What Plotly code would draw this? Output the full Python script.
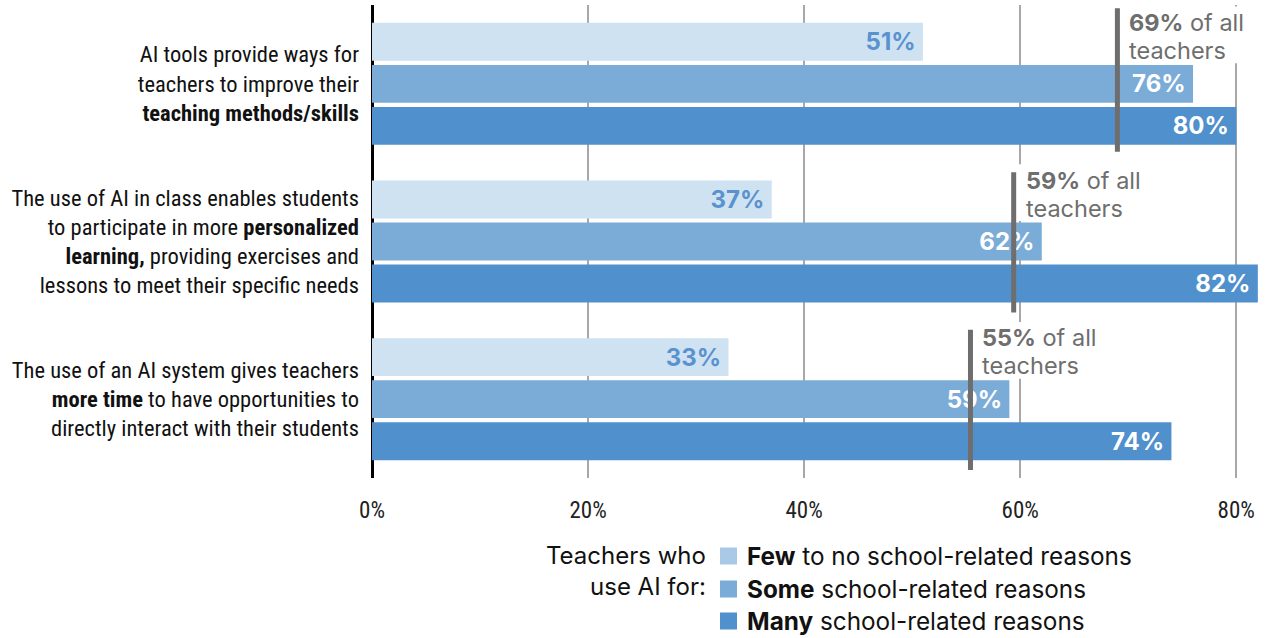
import plotly.graph_objects as go

# ---------------- data ----------------
categories = [
    "AI tools provide ways for<br>teachers to improve their<br><b>teaching methods/skills</b>",
    "The use of AI in class enables students<br>to participate in more <b>personalized</b><br><b>learning,</b> providing exercises and<br>lessons to meet their specific needs",
    "The use of an AI system gives teachers<br><b>more time</b> to have opportunities to<br>directly interact with their students",
]
series_names = ["Few", "Some", "Many"]
legend_labels = [
    "<b>Few</b> to no school-related reasons",
    "<b>Some</b> school-related reasons",
    "<b>Many</b> school-related reasons",
]
few_values = [51, 37, 33]
some_values = [76, 62, 59]
many_values = [80, 82, 74]
all_teachers = [69.0, 59.4, 55.4]
x_tick_vals = [0, 20, 40, 60, 80]
x_tick_text = ["0%", "20%", "40%", "60%", "80%"]
legend_title = "Teachers who<br>use AI for:"

# ---------------- style ----------------
bar_colors = ["#cfe2f1", "#7bacd8", "#5090cc"]
legend_colors = ["#a9c9e7", "#7bacd8", "#5090cc"]
text_colors = ["#5a92cf", "#ffffff", "#ffffff"]
COND = "Roboto Condensed, DejaVu Sans Condensed, Liberation Sans Narrow, Arial Narrow, sans-serif"
SANS = "Inter, Roboto, Liberation Sans, sans-serif"
W, H = 1268, 638
ML, MR, MT, MB = 372, 8, 5, 160
PW, PH = W - ML - MR, H - MT - MB
marker_top = [-0.48, -0.44, -0.44]
marker_bot = [0.43, 0.45, 0.45]


def px_x(p):
    return (p - ML) / PW


def px_y(p):
    return (H - MB - p) / PH


fig = go.Figure()
for name, vals, col, tcol in zip(series_names, [few_values, some_values, many_values], bar_colors, text_colors):
    fig.add_trace(go.Bar(
        y=categories, x=vals, name=name, orientation="h",
        marker=dict(color=col, line=dict(width=0)),
        text=[f"<b>{v}%</b>\u2009" for v in vals],
        textposition="inside", insidetextanchor="end", textangle=0,
        constraintext="none",
        textfont=dict(family=SANS, size=24, color=tcol),
        hoverinfo="skip", showlegend=False,
    ))

shapes = []
annotations = []
for i, v in enumerate(all_teachers):
    # white background behind the note (hides gridlines like the original)
    shapes.append(dict(type="rect", xref="x", yref="y", x0=v + 0.4, x1=v + 12.0,
                       y0=i - 0.49, y1=i - 0.13, layer="above",
                       fillcolor="white", line=dict(width=0)))
    shapes.append(dict(type="line", xref="x", yref="y", x0=v, x1=v,
                       y0=i + marker_top[i], y1=i + marker_bot[i], layer="above",
                       line=dict(color="#6e6e6e", width=5)))
    annotations.append(dict(
        x=v, y=i - 0.30, xref="x", yref="y", xanchor="left", yanchor="middle",
        xshift=11,
        text=(f"<span style='font-size:23.5px'><b>{round(v)}%</b> of all</span><br>"
              "<span style='font-size:23.5px'>teachers</span>"),
        showarrow=False, align="left", borderpad=0,
        font=dict(family=SANS, size=21.8, color="#6e6e6e"),
    ))

# legend (manual)
annotations.append(dict(
    x=px_x(707), y=px_y(540), xref="paper", yref="paper", xanchor="right", yanchor="top",
    text=legend_title, showarrow=False, align="right", borderpad=0,
    font=dict(family=SANS, size=24, color="#111111"),
))
row_y = [556, 589, 621]
for lab, col, ry in zip(legend_labels, legend_colors, row_y):
    shapes.append(dict(type="rect", xref="paper", yref="paper",
                       x0=px_x(720), x1=px_x(737), y0=px_y(ry - 8.5), y1=px_y(ry + 8.5),
                       fillcolor=col, line=dict(width=0)))
    annotations.append(dict(
        x=px_x(746), y=px_y(ry), xref="paper", yref="paper", xanchor="left", yanchor="middle",
        text=lab, showarrow=False, align="left", borderpad=0,
        font=dict(family=SANS, size=24.3, color="#111111"),
    ))

fig.update_layout(
    width=W, height=H, margin=dict(l=ML, r=MR, t=MT, b=MB, pad=0),
    paper_bgcolor="white", plot_bgcolor="white",
    barmode="group", bargap=0.2, bargroupgap=0.1,
    shapes=shapes, annotations=annotations, showlegend=False,
    xaxis=dict(range=[0, 82.2], tickvals=x_tick_vals, ticktext=x_tick_text,
               showgrid=True, gridcolor="#a8a8a8", gridwidth=1.5,
               zeroline=True, zerolinecolor="#000000", zerolinewidth=3,
               showline=False, ticks="", ticklabelstandoff=16,
               tickfont=dict(family=COND, size=23, color="#222222")),
    yaxis=dict(range=[2.5, -0.5], autorange=False, showgrid=False, zeroline=False, showline=False,
               ticks="", ticklabelstandoff=12,
               tickfont=dict(family=COND, size=22.5, color="#111111")),
)

fig.write_html("out.html", config={"displayModeBar": False},
               post_script="document.body.style.margin='0';")
